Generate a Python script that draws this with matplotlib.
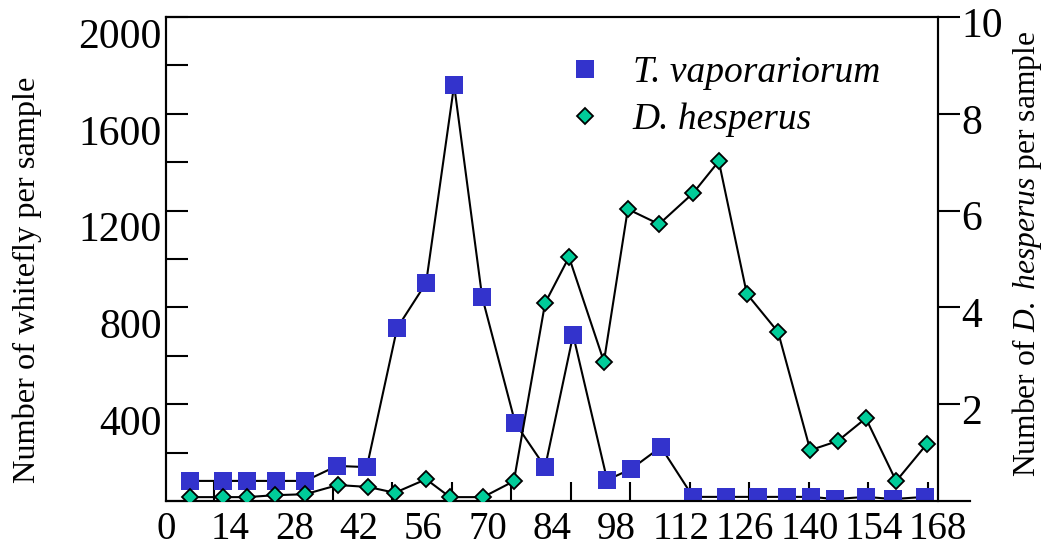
import numpy as np
import matplotlib.pyplot as plt
from matplotlib.lines import Line2D
from matplotlib.transforms import ScaledTranslation

plt.rcParams['font.family'] = 'Liberation Serif'
plt.rcParams['mathtext.fontset'] = 'custom'
plt.rcParams['mathtext.rm'] = 'Liberation Serif'
plt.rcParams['mathtext.it'] = 'Liberation Serif:italic'

# T. vaporariorum (left axis)
tv_days = [5.2, 12.4, 17.6, 23.9, 30.3, 37.2, 43.7, 50.3, 56.6, 62.7, 68.8, 76.0, 82.5,
           88.6, 96.0, 101.2, 107.7, 114.7, 121.9, 128.8, 135.1, 140.4, 145.6, 152.3,
           158.2, 165.2]
tv_vals = [83, 83, 83, 83, 83, 145, 140, 715, 901, 1719, 843, 322, 140,
           686, 87, 132, 223, 17, 17, 17, 17, 17, 8, 17, 8, 17]

# D. hesperus (right axis)
dh_days = [5.2, 12.4, 17.6, 23.7, 30.3, 37.4, 44.0, 49.8, 56.6, 61.8, 69.0, 75.7, 82.5,
           87.7, 95.3, 100.5, 107.3, 114.7, 120.3, 126.4, 133.2, 140.2, 146.2, 152.3,
           158.9, 165.6]
dh_vals = [0.08, 0.08, 0.08, 0.12, 0.14, 0.33, 0.29, 0.17, 0.45, 0.08, 0.08, 0.41, 4.09,
           5.04, 2.88, 6.03, 5.72, 6.36, 7.02, 4.28, 3.49, 1.05, 1.24, 1.71, 0.41, 1.18]

xlabels = [0, 14, 28, 42, 56, 70, 84, 98, 112, 126, 140, 154, 168]
xminor = [10.4 + 12.95 * k for k in range(13)]

blue = '#3333cc'
green = '#00cc99'

fig = plt.figure(figsize=(10.45, 5.48), dpi=100)
ax = fig.add_axes([166 / 1045, 1 - 501 / 548, 772 / 1045, 484 / 548])
ax2 = ax.twinx()

ax.plot(tv_days, tv_vals, color='black', lw=1.5, zorder=2)
ax.plot(tv_days, tv_vals, ls='none', marker='s', ms=12.5, mfc=blue, mec=blue, mew=0,
        zorder=3)
ax2.plot(dh_days, dh_vals, color='black', lw=1.5, zorder=2)
ax2.plot(dh_days, dh_vals, ls='none', marker='D', ms=8.3, mfc=green, mec='black',
         mew=1.3, zorder=3)

ax.set_xlim(0, 168)
ax.set_ylim(0, 2000)
ax2.set_ylim(0, 10)

for a in (ax, ax2):
    for s in a.spines.values():
        s.set_linewidth(1.5)
ax.spines['bottom'].set_bounds(0, 175)
ax2.spines['bottom'].set_bounds(0, 175)

# x axis: labels at multiples of 14, short inward ticks elsewhere
ax.set_xticks(xlabels)
ax.set_xticklabels([str(v) for v in xlabels], fontsize=28)
ax.tick_params(axis='x', which='major', length=0, pad=7)
ax.set_xticks(xminor, minor=True)
ax.tick_params(axis='x', which='minor', direction='in', length=14, width=1.5)

# left axis
ax.set_yticks(np.arange(0, 2001, 200))
ax.set_yticklabels(['' if v == 0 or v % 400 else str(v) for v in range(0, 2001, 200)],
                   fontsize=30)
ax.tick_params(axis='y', direction='in', length=16, width=1.5, pad=3)
for lab in ax.get_yticklabels():
    lab.set_transform(lab.get_transform() + ScaledTranslation(0, -0.16, fig.dpi_scale_trans))

# right axis
ax2.set_yticks([2, 4, 6, 8, 10])
ax2.set_yticklabels(['2', '4', '6', '8', '10'], fontsize=30)
ax2.tick_params(axis='y', direction='out', length=16, width=1.5, pad=0.5)
for lab in ax2.get_yticklabels():
    lab.set_transform(lab.get_transform() + ScaledTranslation(0, -0.05, fig.dpi_scale_trans))

fig.text(27 / 1045, 1 - 280 / 548, 'Number of whitefly per sample', rotation=90,
         fontsize=23.3, ha='center', va='center')
fig.text(1027 / 1045, 1 - 254 / 548, r'Number of $\mathit{D.\ hesperus}$ per sample',
         rotation=90, fontsize=22.7, ha='center', va='center')

handles = [Line2D([], [], ls='none', marker='s', ms=12.5, mfc=blue, mec=blue, mew=0),
           Line2D([], [], ls='none', marker='D', ms=8.3, mfc=green, mec='black', mew=1.3)]
leg = ax2.legend(handles, ['T. vaporariorum', 'D. hesperus'], loc='upper left',
                 bbox_to_anchor=(549 / 1045, 1 - 37 / 548), bbox_transform=fig.transFigure,
                 frameon=False, prop={'family': 'Liberation Serif', 'style': 'italic',
                                      'size': 27},
                 handlelength=0.9, handletextpad=0.83, labelspacing=0.32, borderpad=0)

fig.savefig('out.png', dpi=100)
